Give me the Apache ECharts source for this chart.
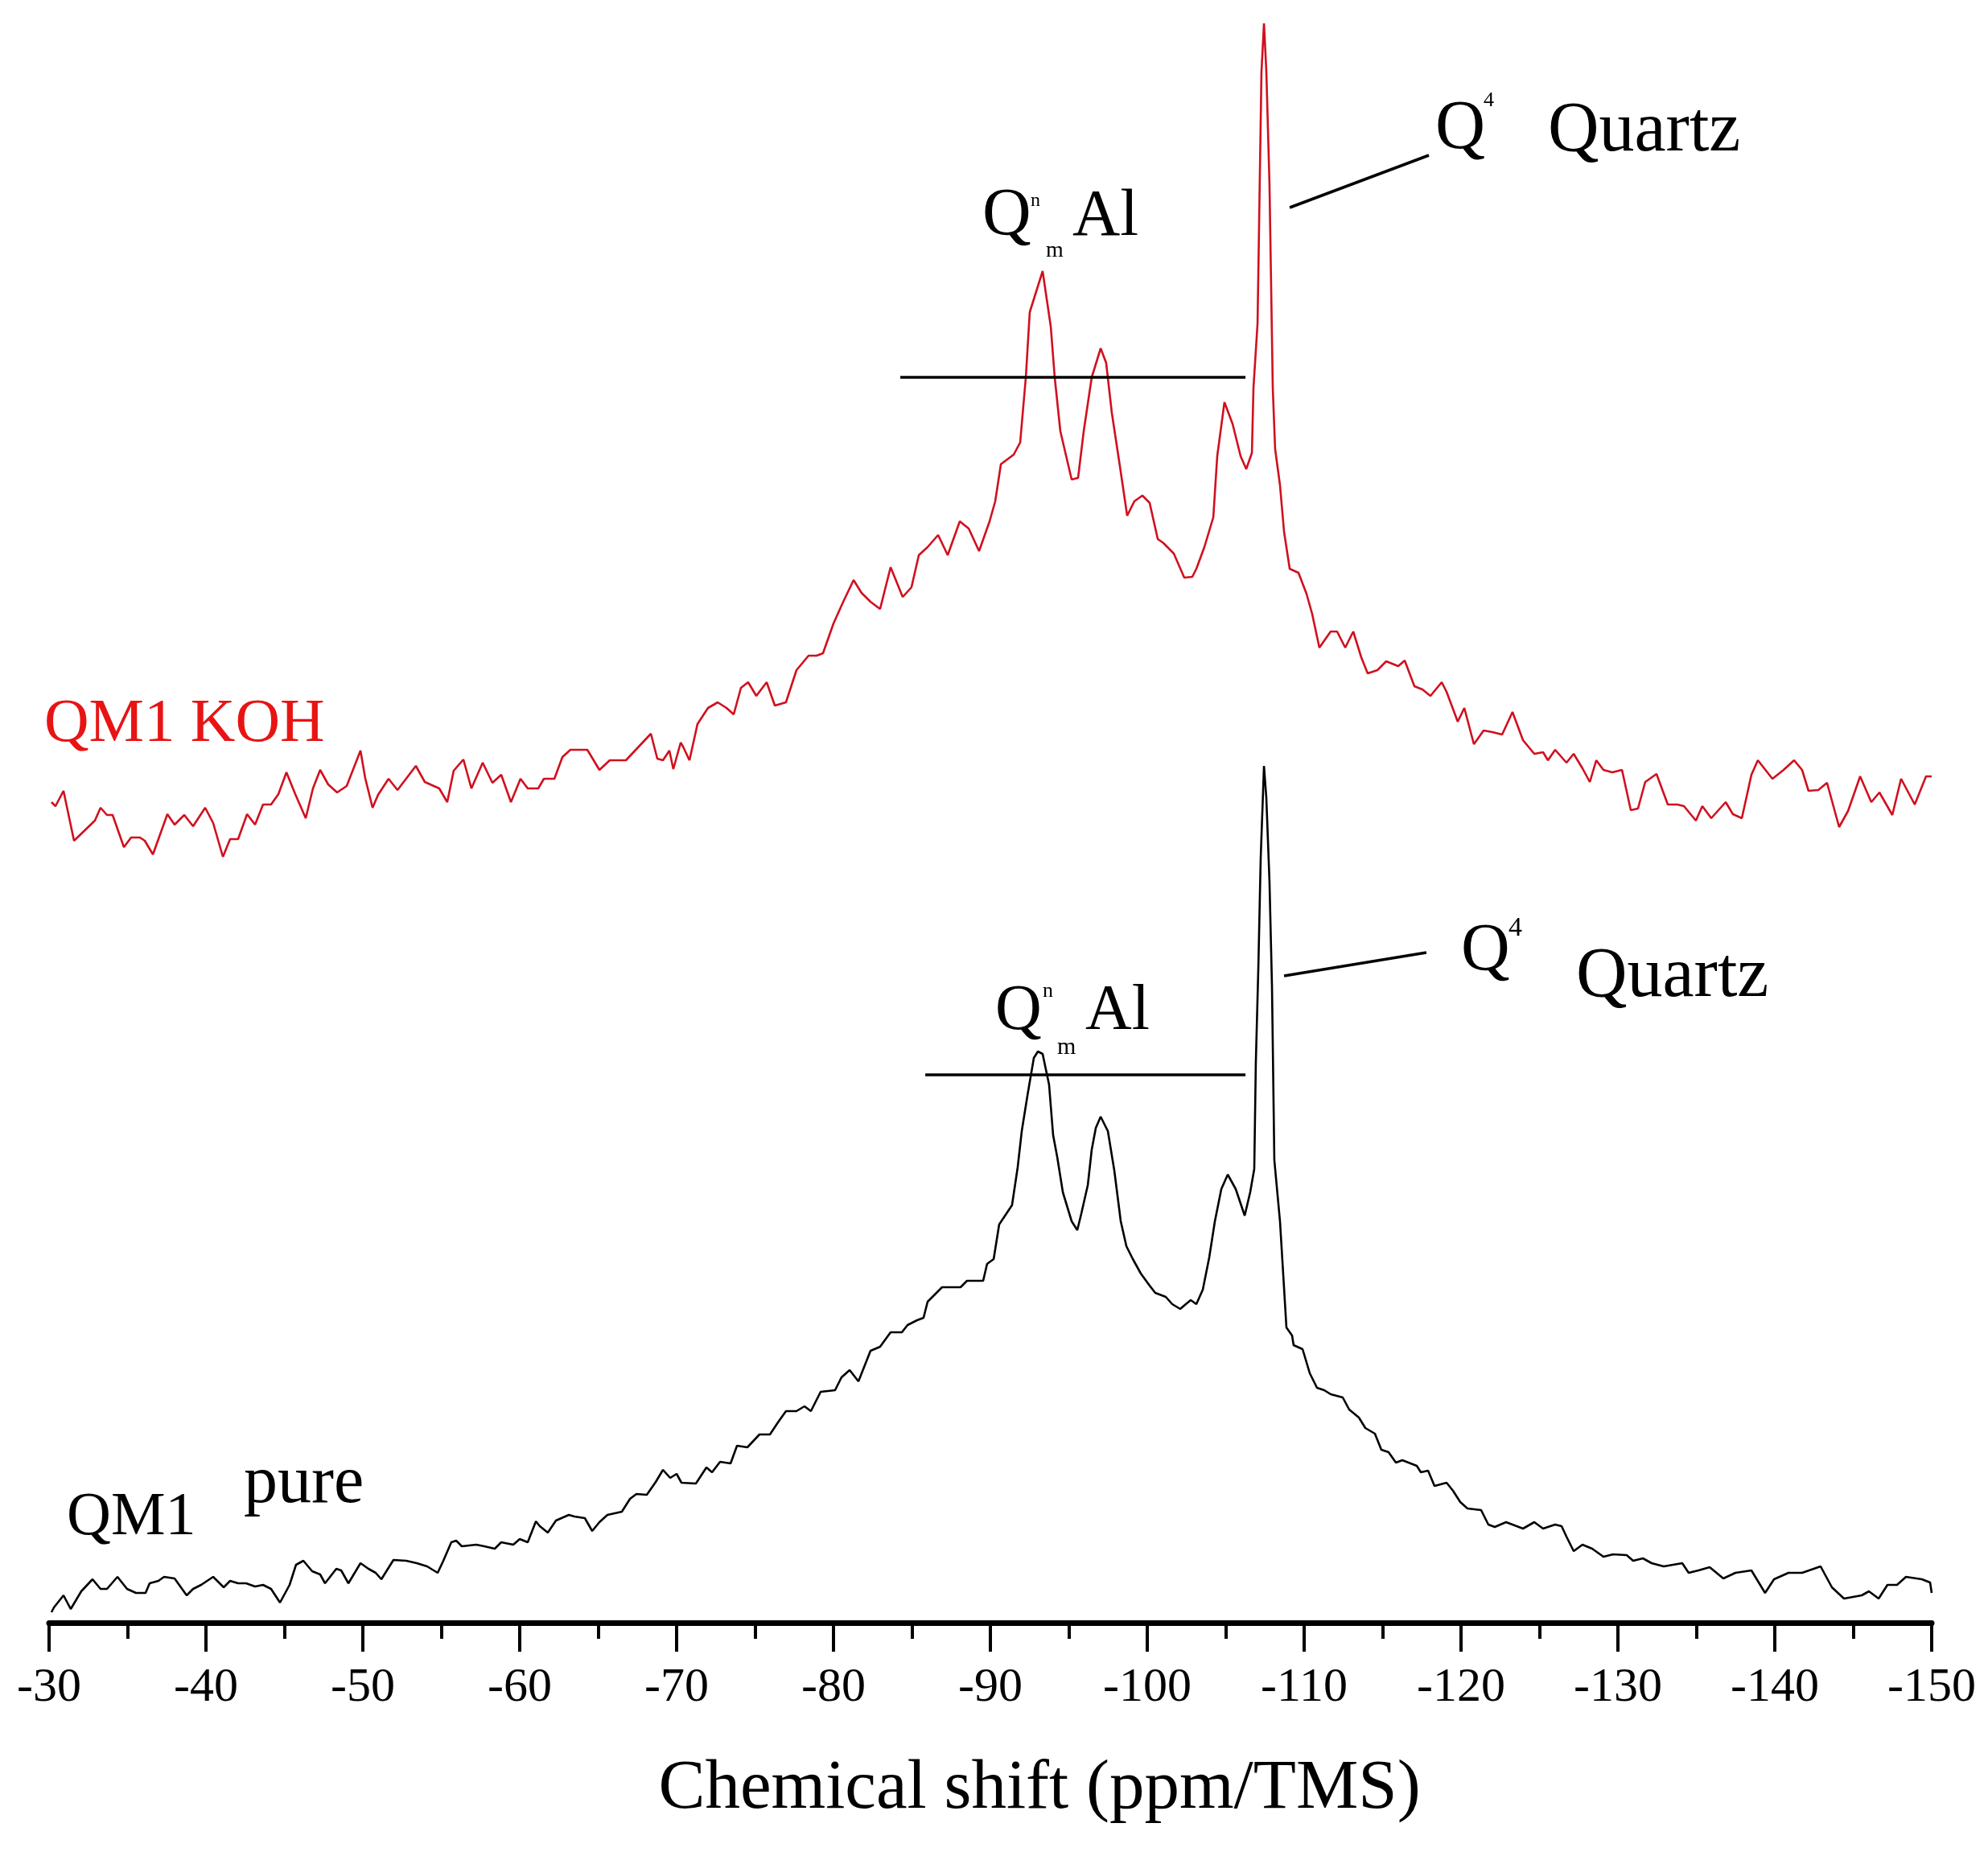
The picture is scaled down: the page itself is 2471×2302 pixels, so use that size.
<!DOCTYPE html>
<html><head><meta charset="utf-8">
<script src="https://cdn.jsdelivr.net/npm/echarts/dist/echarts.min.js"></script>
<style>html,body{margin:0;padding:0;background:#fff}#c{width:2471px;height:2302px}</style>
</head><body><div id="c"></div>
<script>
// ---- Data (chemical shift in ppm, intensity in a.u.) ----
const xTicks = [-30,-40,-50,-60,-70,-80,-90,-100,-110,-120,-130,-140,-150];

const kohShift = [-30.15,-30.41,-30.92,-31.59,-32.92,-33.28,-33.69,-34.05,-34.77,-35.23,-35.79,-36.10,-36.62,-37.54,-38.00,-38.62,-39.18,-39.95,-40.46,-41.08,-41.54,-42.05,-42.62,-43.13,-43.64,-44.15,-44.62,-45.13,-45.69,-46.36,-46.82,-47.28,-47.79,-48.36,-48.97,-49.85,-50.15,-50.62,-50.97,-51.64,-52.21,-53.38,-53.95,-54.87,-55.38,-55.79,-56.41,-56.92,-57.64,-58.26,-58.82,-59.44,-60.05,-60.51,-61.18,-61.54,-62.21,-62.72,-63.23,-64.31,-65.08,-65.74,-66.77,-68.36,-68.77,-69.13,-69.54,-69.79,
-70.26,-70.41,-70.82,-71.33,-72.00,-72.62,-73.18,-73.64,-74.10,-74.56,-75.08,-75.74,-76.26,-76.97,-77.64,-78.41,-78.92,-79.33,-80.00,-80.62,-81.28,-81.79,-82.36,-82.97,-83.64,-84.41,-84.97,-85.44,-86.00,-86.67,-87.28,-88.05,-88.62,-89.28,-89.95,-90.31,-90.67,-91.49,-91.90,-92.26,-92.51,-93.33,-93.85,-94.10,-94.46,-95.18,-95.59,-95.95,-96.46,-97.03,-97.38,-97.74,-98.26,-98.72,-99.18,-99.69,-100.15,-100.67,-101.03,-101.69,-102.36,-102.87,-103.13,-103.64,-104.21,-104.46,-104.92,-105.44,-105.95,-106.31,-106.67,-106.77,-107.03,-107.13,-107.28,-107.44,-107.59,-107.79,-108.00,-108.15,-108.46,-108.72,-109.08,-109.64,-110.15,-110.51,-110.97,-111.69,-112.10,-112.62,-113.13,-113.64,-114.05,-114.67,-115.23,-116.00,-116.41,-117.03,-117.54,-118.05,-118.77,-119.08,-119.79,-120.21,-120.82,-121.44,-122.00,-122.62,-123.28,-123.95,-124.67,-125.23,-125.54,-126.00,-126.72,-127.18,-127.74,-128.21,-128.62,-129.08,-129.64,-130.26,-130.82,-131.28,-131.74,-132.46,-133.18,-133.79,-134.21,-134.97,-135.38,-135.95,-136.87,-137.33,-137.90,-138.51,-138.92,-139.85,-140.56,-141.23,-141.74,-142.15,-142.77,-143.33,-144.10,-144.67,-145.44,-146.15,-146.67,-147.49,-148.05,-148.92,-149.64,-150.00];
const kohIntensity = [102.0,101.5,103.4,97.2,99.7,101.3,100.4,100.4,96.4,97.6,97.6,97.2,95.5,100.5,99.2,100.4,99.0,101.3,99.4,95.2,97.4,97.4,100.5,99.2,101.7,101.7,103.0,105.7,103.0,100.0,103.7,106.0,104.2,103.2,104.0,108.4,105.0,101.3,102.9,104.9,103.5,106.5,104.5,103.7,102.0,105.9,107.3,103.7,106.9,104.4,105.4,102.0,104.9,103.7,103.7,104.9,104.9,107.6,108.5,108.5,106.0,107.2,107.2,110.5,107.4,107.2,108.4,106.1,
109.4,108.9,107.2,111.7,113.7,114.4,113.7,112.9,116.2,116.9,115.2,116.9,114.0,114.4,118.4,120.2,120.2,120.5,124.2,126.9,129.6,128.0,126.9,126.0,131.2,127.5,128.7,132.7,133.7,135.2,132.7,136.9,136.0,133.2,136.9,139.4,144.0,145.2,146.7,154.8,162.9,168.0,161.1,154.8,148.1,142.1,142.3,148.1,154.8,158.4,156.6,150.4,143.7,137.6,139.4,140.1,139.2,134.7,134.2,132.9,129.9,130.0,131.0,133.7,137.4,145.0,151.7,149.0,145.0,143.4,145.4,153.5,161.5,174.0,192.8,198.8,192.8,178.9,153.5,145.9,141.4,135.6,131.0,130.5,127.9,125.4,121.2,123.2,123.2,121.2,123.2,120.0,118.0,118.4,119.5,118.9,119.6,116.4,116.0,115.2,116.9,115.7,112.0,113.7,109.2,110.9,110.7,110.4,113.2,109.7,108.0,108.2,107.2,108.5,106.9,108.0,106.2,104.5,107.2,106.0,105.7,106.0,101.0,101.2,104.5,105.5,101.7,101.7,101.5,99.7,101.5,100.0,102.0,100.5,100.0,105.4,107.2,104.9,106.0,107.2,106.0,103.4,103.5,104.4,98.9,100.9,105.2,102.0,103.2,100.4,104.9,101.7,105.2,105.2];

const pureShift = [-30.15,-30.31,-30.92,-31.38,-32.05,-32.77,-33.28,-33.69,-34.36,-34.97,-35.54,-36.15,-36.41,-36.97,-37.33,-38.00,-38.77,-39.18,-39.69,-40.46,-41.13,-41.54,-42.05,-42.56,-43.13,-43.64,-44.15,-44.72,-45.33,-45.74,-46.21,-46.77,-47.28,-47.59,-48.31,-48.62,-49.08,-49.85,-50.36,-50.82,-51.18,-51.95,-52.77,-53.44,-54.10,-54.77,-55.13,-55.64,-55.95,-56.31,-57.23,-57.74,-58.41,-58.82,-59.59,-60.00,-60.51,-61.03,-61.28,-61.79,-62.31,-63.13,-63.49,-64.15,-64.62,-65.08,-65.59,-66.51,-67.03,-67.44,-68.10,-68.67,-69.13,-69.59,-70.00,
-70.31,-71.23,-71.90,-72.26,-72.77,-73.44,-73.85,-74.51,-75.28,-75.95,-76.46,-76.97,-77.64,-78.15,-78.56,-79.18,-80.10,-80.51,-81.03,-81.59,-82.36,-82.97,-83.64,-84.36,-84.72,-85.33,-85.74,-86.00,-86.92,-88.10,-88.51,-89.54,-89.79,-90.21,-90.56,-91.38,-91.74,-92.00,-92.36,-92.77,-93.03,-93.33,-93.74,-94.00,-94.26,-94.62,-95.18,-95.54,-95.79,-96.21,-96.46,-96.72,-97.03,-97.49,-97.90,-98.31,-98.67,-99.08,-99.59,-100.15,-100.51,-101.18,-101.59,-102.10,-102.46,-102.77,-103.13,-103.54,-103.95,-104.31,-104.72,-105.13,-105.64,-106.21,-106.56,-106.82,-106.92,-107.08,-107.23,-107.44,-107.59,-107.79,-107.95,-108.10,-108.46,-108.62,-108.87,
-109.23,-109.33,-109.90,-110.36,-110.82,-111.28,-111.69,-112.46,-112.87,-113.49,-113.90,-114.51,-114.92,-115.38,-115.85,-116.26,-117.18,-117.44,-117.90,-118.31,-119.08,-119.49,-119.95,-120.41,-121.28,-121.74,-122.15,-122.87,-123.95,-124.67,-125.23,-126.00,-126.41,-126.72,-127.18,-127.74,-128.36,-129.08,-129.69,-130.56,-130.97,-131.59,-132.15,-132.92,-134.10,-134.51,-135.13,-135.85,-136.72,-137.49,-138.51,-139.38,-139.95,-140.87,-141.74,-142.92,-143.64,-144.41,-145.54,-146.00,-146.62,-147.18,-147.79,-148.36,-149.38,-149.90,-150.00];
const pureIntensity = [1.3,1.9,3.4,1.7,3.9,5.4,4.2,4.2,5.7,4.2,3.7,3.7,4.9,5.2,5.7,5.5,3.4,4.2,4.7,5.7,4.4,5.2,4.9,4.9,4.5,4.7,4.2,2.5,4.7,7.2,7.7,6.4,6.0,4.9,6.7,6.5,4.9,7.4,6.7,6.2,5.4,7.8,7.7,7.4,7.0,6.2,7.7,10.0,10.2,9.5,9.7,9.5,9.2,10.0,9.7,10.4,10.0,12.6,12.0,11.2,12.7,13.4,13.2,13.0,11.4,12.5,13.4,13.8,15.4,16.0,15.9,17.5,19.0,18.0,18.5,
17.4,17.3,19.3,18.7,20.0,19.8,22.0,21.8,23.4,23.4,24.9,26.3,26.3,26.9,26.3,28.7,28.9,30.5,31.4,30.0,33.8,34.3,36.1,36.1,37.0,37.6,37.9,39.9,41.7,41.7,42.5,42.5,44.6,45.2,49.5,51.9,56.6,61.1,65.5,70.2,71.0,70.7,66.9,60.6,57.9,53.5,49.9,48.8,50.8,54.4,58.8,61.5,62.9,61.1,56.2,49.9,46.8,45.2,43.4,41.9,41.0,40.5,39.6,39.0,39.6,40.1,39.6,41.4,45.4,49.9,53.9,55.7,53.9,50.6,53.5,56.4,69.6,81.4,95.0,106.5,102.5,92.2,79.1,57.5,49.9,44.8,36.7,
35.7,34.5,34.0,31.0,29.2,28.9,28.4,28.0,26.5,25.5,24.2,23.5,21.5,21.2,19.9,20.2,19.5,18.7,18.9,17.0,17.4,16.4,15.0,14.2,14.0,12.2,11.9,12.5,11.7,12.5,11.7,12.2,12.0,10.7,8.9,9.7,9.2,8.2,8.5,8.4,7.7,8.0,7.4,7.0,7.4,6.2,6.5,6.9,5.5,6.2,6.5,3.7,5.4,6.2,6.2,7.0,4.4,3.0,3.4,3.9,3.0,4.7,4.7,5.7,5.4,5.0,3.7];

// annotation segments [shift1, int1, shift2, int2]
const kohBar    = [-84.26, 154.8, -106.26, 154.8];
const kohLeader = [-109.08, 175.9, -117.95, 182.4];
const pureBar    = [-85.85, 68.1, -106.26, 68.1];
const pureLeader = [-108.72, 80.4, -117.79, 83.3];

const zip = (a, b) => a.map((v, i) => [v, b[i]]);
const seg = s => [{coord: [s[0], s[1]]}, {coord: [s[2], s[3]]}];

const serif = '"Liberation Serif", "Times New Roman", serif';
const RED_LINE = '#d0101e';
const RED_TEXT = '#e81414';

// text annotations: [text, left x, baseline y, size, color]
const labels = [
  ['QM1 KOH', 55, 927, 77, RED_TEXT],
  ['Q', 1221, 298, 84, '#000'], ['n', 1281, 258, 24, '#000'], ['m', 1300, 321, 28, '#000'], ['Al', 1333, 298, 82, '#000'],
  ['Q', 1784, 190, 86, '#000'], ['4', 1844, 134, 26, '#000'], ['Quartz', 1924, 194, 88, '#000'],
  ['QM1', 83, 1913, 76, '#000'], ['pure', 303, 1873, 84, '#000'],
  ['Q', 1237, 1285, 80, '#000'], ['n', 1296, 1241, 26, '#000'], ['m', 1314, 1312, 30, '#000'], ['Al', 1349, 1285, 80, '#000'],
  ['Q', 1816, 1212, 84, '#000'], ['4', 1875, 1166, 34, '#000'], ['Quartz', 1959, 1245, 88, '#000']
];

const chart = echarts.init(document.getElementById('c'), null, {renderer: 'canvas'});
const markLineBase = {
  silent: true, symbol: ['none', 'none'], label: {show: false},
  emphasis: {disabled: true}, animation: false
};
chart.setOption({
  animation: false,
  backgroundColor: '#fff',
  grid: {left: 61, right: 70, top: 17, bottom: 285, containLabel: false, outerBoundsMode: 'none'},
  xAxis: {
    type: 'value', min: -150, max: -30, interval: 10, inverse: true,
    axisLine: {lineStyle: {color: '#000', width: 7}},
    axisTick: {length: 36, lineStyle: {color: '#000', width: 4}},
    minorTick: {show: true, splitNumber: 2, length: 20, lineStyle: {color: '#000', width: 4}},
    splitLine: {show: false}, minorSplitLine: {show: false},
    axisLabel: {
      fontFamily: serif, fontSize: 60, color: '#000', margin: 51,
      showMinLabel: true, showMaxLabel: true, hideOverlap: false,
      formatter: v => xTicks.includes(v) ? String(v) : ''
    },
    name: 'Chemical shift (ppm/TMS)', nameLocation: 'middle', nameGap: 164, nameMoveOverlap: false,
    nameTextStyle: {fontFamily: serif, fontSize: 87, color: '#000', padding: [0, 0, 0, 122]}
  },
  yAxis: {type: 'value', min: 0, max: 200, show: false},
  series: [
    {
      name: 'QM1 KOH', type: 'line', data: zip(kohShift, kohIntensity),
      showSymbol: false, symbol: 'none', clip: false,
      lineStyle: {color: RED_LINE, width: 2.6}, itemStyle: {color: RED_LINE},
      markLine: Object.assign({}, markLineBase, {
        data: [seg(kohBar), seg(kohLeader)],
        lineStyle: {color: '#000', width: 3.5, type: 'solid'}
      })
    },
    {
      name: 'QM1 pure', type: 'line', data: zip(pureShift, pureIntensity),
      showSymbol: false, symbol: 'none', clip: false,
      lineStyle: {color: '#000', width: 2.6}, itemStyle: {color: '#000'},
      markLine: Object.assign({}, markLineBase, {
        data: [seg(pureBar), seg(pureLeader)],
        lineStyle: {color: '#000', width: 3.5, type: 'solid'}
      })
    }
  ],
  graphic: labels.map(l => ({
    type: 'text', silent: true, z: 100,
    x: l[1], y: l[2] - 0.3375 * l[3],
    style: {
      text: l[0], fill: l[4], font: l[3] + 'px ' + serif,
      textAlign: 'left', textVerticalAlign: 'middle', verticalAlign: 'middle'
    }
  }))
});
</script>
</body></html>
